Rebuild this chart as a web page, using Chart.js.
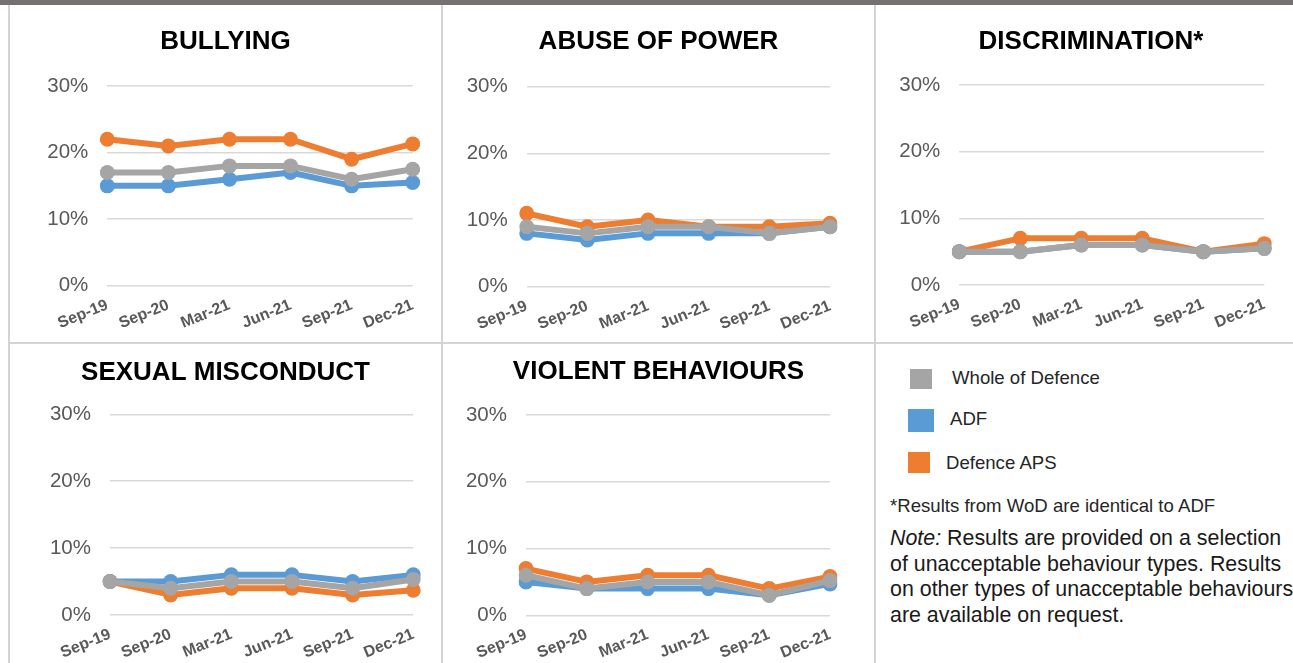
<!DOCTYPE html>
<html>
<head>
<meta charset="utf-8">
<script src="https://cdn.jsdelivr.net/npm/chart.js@4"></script>
<style>
  html, body { margin: 0; padding: 0; background: #ffffff; width: 1293px; height: 663px; overflow: hidden; position: relative; font-family: "Liberation Sans", Arial, sans-serif; }
  .box { position: absolute; }
  .line { position: absolute; background: #d4d4d4; }
  .sq { position: absolute; }
  .lg { position: absolute; font-size: 18.6px; color: #262626; white-space: nowrap; line-height: 22px; }
  .note { position: absolute; left: 890px; font-size: 21.4px; color: #1a1a1a; white-space: nowrap; line-height: 25.7px; }
</style>
</head>
<body>
<div class="line" style="left:0;top:0;width:1293px;height:5px;background:#757170;"></div>
<div class="line" style="left:8px;top:5px;width:2px;height:658px;"></div>
<div class="line" style="left:441px;top:5px;width:2px;height:658px;"></div>
<div class="line" style="left:874px;top:5px;width:2px;height:658px;"></div>
<div class="line" style="left:8px;top:342px;width:1285px;height:2px;"></div>

<div class="box" style="left:11px;top:6px;width:429px;height:336px;"><canvas id="c1"></canvas></div>
<div class="box" style="left:444px;top:6px;width:429px;height:336px;"><canvas id="c2"></canvas></div>
<div class="box" style="left:877px;top:6px;width:428px;height:336px;"><canvas id="c3"></canvas></div>
<div class="box" style="left:11px;top:345px;width:429px;height:318px;"><canvas id="c4"></canvas></div>
<div class="box" style="left:444px;top:345px;width:429px;height:318px;"><canvas id="c5"></canvas></div>

<div class="sq" style="left:910px;top:369px;width:22px;height:20px;background:#A5A5A5;"></div>
<div class="lg" style="left:952px;top:367px;">Whole of Defence</div>
<div class="sq" style="left:908px;top:409px;width:26px;height:23px;background:#5B9BD5;"></div>
<div class="lg" style="left:950px;top:408px;">ADF</div>
<div class="sq" style="left:908px;top:452px;width:22px;height:21px;background:#ED7D31;"></div>
<div class="lg" style="left:946px;top:452px;">Defence APS</div>
<div class="lg" style="left:890px;top:495px;">*Results from WoD are identical to ADF</div>
<div class="note" style="top:526px;"><i>Note:</i> Results are provided on a selection<br>of unacceptable behaviour types. Results<br>on other types of unacceptable behaviours<br>are available on request.</div>

<script>
// ---- Data ----
const months = ['Sep-19', 'Sep-20', 'Mar-21', 'Jun-21', 'Sep-21', 'Dec-21'];
const seriesNames = ['Whole of Defence', 'ADF', 'Defence APS'];
const yTicks = [0, 10, 20, 30];

const bullyingWoD = [17, 17, 18, 18, 16, 17.5];
const bullyingADF = [15, 15, 16, 17, 15, 15.5];
const bullyingAPS = [22, 21, 22, 22, 19, 21.3];

const abuseWoD = [9, 8, 9, 9, 8, 9];
const abuseADF = [8, 7, 8, 8, 8, 9];
const abuseAPS = [11, 9, 10, 9, 9, 9.5];

const discrimWoD = [5, 5, 6, 6, 5, 5.5];
const discrimADF = [5, 5, 6, 6, 5, 5.5];
const discrimAPS = [5, 7, 7, 7, 5, 6.2];

const sexualWoD = [5, 4, 5, 5, 4, 5.3];
const sexualADF = [5, 5, 6, 6, 5, 6];
const sexualAPS = [5, 3, 4, 4, 3, 3.7];

const violentWoD = [6, 4, 5, 5, 3, 5.2];
const violentADF = [5, 4, 4, 4, 3, 4.7];
const violentAPS = [7, 5, 6, 6, 4, 5.8];

const colors = ['#A5A5A5', '#5B9BD5', '#ED7D31'];
const FONT = '"Liberation Sans", Arial, sans-serif';

function makeChart(id, title, series, geo) {
  const canvas = document.getElementById(id);
  const W = geo.w, H = geo.h;
  const titleLH = 26 * 1.2;
  const datasets = series.map((vals, i) => ({
    label: seriesNames[i],
    data: vals,
    borderColor: colors[i],
    backgroundColor: colors[i],
    pointBackgroundColor: colors[i],
    pointBorderColor: colors[i],
    pointBorderWidth: 0,
    pointRadius: 7.5,
    borderWidth: 6,
    borderCapStyle: 'round',
    borderJoinStyle: 'round',
    tension: 0
  }));
  return new Chart(canvas, {
    type: 'line',
    data: { labels: months, datasets: datasets },
    options: {
      responsive: true,
      maintainAspectRatio: false,
      animation: false,
      events: [],
      layout: { padding: 0 },
      plugins: {
        legend: { display: false },
        tooltip: { enabled: false },
        title: {
          display: true,
          text: title,
          color: '#000000',
          font: { family: FONT, size: 26, weight: 'bold', lineHeight: 1.2 },
          padding: { top: geo.tc - titleLH / 2, bottom: geo.top - (geo.tc + titleLH / 2) }
        }
      },
      scales: {
        x: {
          offset: false,
          grid: { display: false, drawTicks: false },
          border: { display: false },
          ticks: {
            autoSkip: false, minRotation: 22, maxRotation: 22, padding: 10,
            color: '#595959', font: { family: FONT, size: 16, weight: 'bold' }
          },
          afterFit: (s) => { s.height = H - geo.bottom; }
        },
        y: {
          min: 0, max: 30,
          afterBuildTicks: (s) => { s.ticks = yTicks.map(v => ({ value: v })); },
          grid: { color: '#d9d9d9', lineWidth: 1.5, drawTicks: false },
          border: { display: false },
          ticks: {
            padding: 19, color: '#595959',
            font: { family: FONT, size: 20.5 },
            callback: (v) => v + '%'
          },
          afterFit: (s) => { s.width = geo.left; }
        },
        yRight: {
          position: 'right',
          display: true,
          grid: { display: false, drawTicks: false },
          border: { display: false },
          ticks: { display: false },
          afterFit: (s) => { s.width = W - geo.right; }
        }
      }
    }
  });
}

makeChart('c1', 'BULLYING', [bullyingWoD, bullyingADF, bullyingAPS],
  { w: 429, h: 336, left: 96.3, right: 401.7, top: 80, bottom: 279.7, tc: 36.3 });
makeChart('c2', 'ABUSE OF POWER', [abuseWoD, abuseADF, abuseAPS],
  { w: 429, h: 336, left: 82.7, right: 386, top: 80.7, bottom: 280.7, tc: 36.3 });
makeChart('c3', 'DISCRIMINATION*', [discrimWoD, discrimADF, discrimAPS],
  { w: 428, h: 336, left: 82.3, right: 387.3, top: 79, bottom: 279, tc: 36.3 });
makeChart('c4', 'SEXUAL MISCONDUCT', [sexualWoD, sexualADF, sexualAPS],
  { w: 429, h: 318, left: 99, right: 402.3, top: 69.3, bottom: 270, tc: 27.7 });
makeChart('c5', 'VIOLENT BEHAVIOURS', [violentWoD, violentADF, violentAPS],
  { w: 429, h: 318, left: 82, right: 386, top: 70, bottom: 270.3, tc: 27.3 });
</script>
</body>
</html>
